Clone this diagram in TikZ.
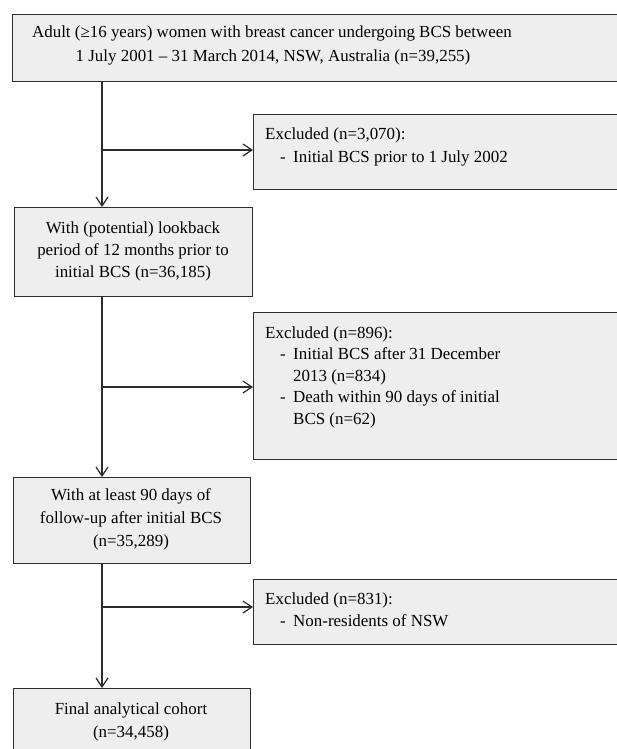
\documentclass[tikz,border=0pt]{standalone}
\usepackage{fontspec}
\setmainfont{Liberation Serif}
\usetikzlibrary{arrows.meta}
\definecolor{boxfill}{RGB}{238,238,238}
\definecolor{lin}{RGB}{45,45,45}
\tikzset{
  box/.style={draw=lin, fill=boxfill, line width=1.2bp, inner sep=0pt, anchor=north west},
  txt/.style={inner sep=0pt, font=\fontsize{17}{22}\selectfont, text=black},
  arr/.style={draw=lin, line width=1.2bp, -{Straight Barb[length=9bp,width=12bp,line width=1.2bp]}}
}
\begin{document}
\begin{tikzpicture}[x=1bp,y=-1bp]
\path[use as bounding box, clip] (0,0) rectangle (617,749);
\fill[white] (0,0) rectangle (617,749);
% boxes
\node[box, minimum width=628bp, minimum height=67bp] (top) at (12,14) {};
\node[box, minimum width=387bp, minimum height=75bp] (ex1) at (253,114) {};
\node[box, minimum width=238bp, minimum height=89bp] (b2) at (14,207) {};
\node[box, minimum width=387bp, minimum height=147bp] (ex2) at (253,312) {};
\node[box, minimum width=237bp, minimum height=86bp] (b3) at (13,477) {};
\node[box, minimum width=387bp, minimum height=65bp] (ex3) at (253,579) {};
\node[box, minimum width=237bp, minimum height=90bp] (b4) at (13,688) {};
% texts
\node[txt, anchor=base] (t1) at (272,38) {Adult (≥16 years) women with breast cancer undergoing BCS between};
\node[txt, anchor=base] (t2) at (273,62) {1 July 2001 – 31 March 2014, NSW, Australia (n=39,255)};

\node[txt, anchor=base west] (e1a) at (265,139) {Excluded (n=3,070):};
\node[txt, anchor=base west] (e1b) at (280,162) {-};
\node[txt, anchor=base west] (e1c) at (293,162) {Initial BCS prior to 1 July 2002};

\node[txt, anchor=base] (b2a) at (133,233) {With (potential) lookback};
\node[txt, anchor=base] (b2b) at (133,255) {period of 12 months prior to};
\node[txt, anchor=base] (b2c) at (133,277) {initial BCS (n=36,185)};

\node[txt, anchor=base west] (e2a) at (265,338) {Excluded (n=896):};
\node[txt, anchor=base west] (e2b) at (280,359) {-};
\node[txt, anchor=base west] (e2c) at (293,359) {Initial BCS after 31 December};
\node[txt, anchor=base west] (e2d) at (293,381) {2013 (n=834)};
\node[txt, anchor=base west] (e2e) at (280,402) {-};
\node[txt, anchor=base west] (e2f) at (293,402) {Death within 90 days of initial};
\node[txt, anchor=base west] (e2g) at (293,424) {BCS (n=62)};

\node[txt, anchor=base] (b3a) at (131,500) {With at least 90 days of};
\node[txt, anchor=base] (b3b) at (131,523) {follow-up after initial BCS};
\node[txt, anchor=base] (b3c) at (131,546) {(n=35,289)};

\node[txt, anchor=base west] (e3a) at (265,604) {Excluded (n=831):};
\node[txt, anchor=base west] (e3b) at (280,626) {-};
\node[txt, anchor=base west] (e3c) at (293,626) {Non-residents of NSW};

\node[txt, anchor=base] (b4a) at (131,714) {Final analytical cohort};
\node[txt, anchor=base] (b4b) at (131,737) {(n=34,458)};
% connectors
\coordinate (vx) at (102,0);
\coordinate (j1) at (102,150);
\coordinate (j2) at (102,387);
\coordinate (j3) at (102,607);
\draw[arr] (top.south -| vx) -- (b2.north -| vx);
\draw[arr] (j1) -- (j1 -| ex1.west);
\draw[arr] (b2.south -| vx) -- (b3.north -| vx);
\draw[arr] (j2) -- (j2 -| ex2.west);
\draw[arr] (b3.south -| vx) -- (b4.north -| vx);
\draw[arr] (j3) -- (j3 -| ex3.west);
\end{tikzpicture}
\end{document}
